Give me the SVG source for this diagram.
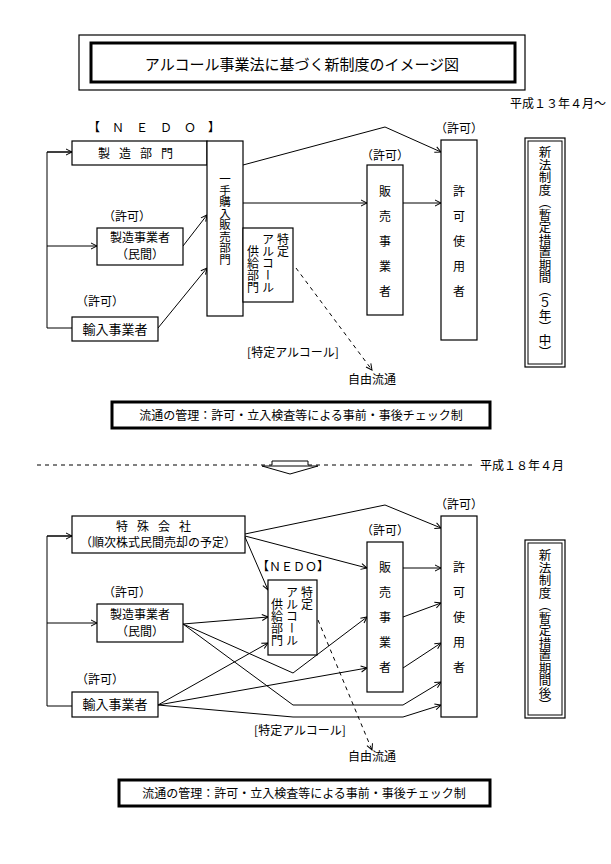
<svg xmlns="http://www.w3.org/2000/svg" width="611" height="864" viewBox="0 0 611 864">
<defs>
<marker id="ar" markerWidth="8" markerHeight="8" refX="7" refY="4" orient="auto" markerUnits="userSpaceOnUse"><path d="M1,1 L7,4 L1,7" fill="none" stroke="#000" stroke-width="1"/></marker>
<style>
text{font-family:"Noto Sans CJK JP","Liberation Sans",sans-serif;font-size:12px;fill:#000}
.b{fill:#fff;stroke:#000;stroke-width:1.2}
.l{fill:none;stroke:#000;stroke-width:1}
.a{fill:none;stroke:#000;stroke-width:1;marker-end:url(#ar)}
.d{fill:none;stroke:#000;stroke-width:1;stroke-dasharray:4 4}
.m{text-anchor:middle}
.v{writing-mode:tb;glyph-orientation-vertical:0;font-size:12px}
</style>
</defs>
<rect width="611" height="864" fill="#fff"/>
<g id="title"><rect x="79" y="35" width="446" height="55" class="b"/><rect x="91" y="43" width="424" height="39" fill="none" stroke="#000" stroke-width="3"/><text x="302" y="70" class="m" style="font-size:15px">アルコール事業法に基づく新制度のイメージ図</text></g>
<text x="606" y="108" text-anchor="end">平成１３年４月～</text>
<g id="connectors">
<path class="l" d="M72,152 H47 V328 H72"/>
<path class="a" d="M47,152 H72"/><path class="a" d="M47,246 H97"/>
<path class="a" d="M183,246 L207,215"/><path class="a" d="M158,328 L207,268"/>
<path class="a" d="M243,165 L385,127 L441,152"/>
<path class="a" d="M243,203 H367"/><path class="a" d="M403,203 H441"/>
<path class="d" d="M296,268 L372,370" marker-end="url(#ar)"/>
<path class="l" d="M72,536 H47 V706 H72"/>
<path class="a" d="M47,536 H72"/><path class="a" d="M47,623 H97"/>
<path class="a" d="M245,534 L385,505 L441,528"/>
<path class="a" d="M245,536 L367,568"/>
<path class="a" d="M245,537 L268,590"/>
<path class="a" d="M183,624 L268,617"/>
<path class="a" d="M183,624 L293,673 L367,617"/>
<path class="a" d="M183,624 L293,705 H403 L441,682"/>
<path class="a" d="M158,705 L268,643"/>
<path class="a" d="M158,705 L367,668"/>
<path class="a" d="M158,705 L293,717 H403 L441,705"/>
<path class="a" d="M403,568 H441"/><path class="a" d="M403,617 L441,603"/><path class="a" d="M403,668 L441,643"/>
<path class="d" d="M318,620 L372,750" marker-end="url(#ar)"/>
<path class="d" d="M37,465 H272 M308,465 H474"/>
<path class="l" d="M272,465 V461 H308 V465 M262,466 L318,466 L290,474 Z" fill="#fff"/>
</g>
<text x="160" y="132" class="m" style="letter-spacing:12px">【ＮＥＤＯ】</text>
<g id="seizo"><rect x="72" y="141" width="135" height="24" class="b"/><text x="140" y="158" class="m" style="letter-spacing:9px">製造部門</text></g>
<g id="ittekonyu"><rect x="207" y="141" width="36" height="175" class="b"/><text x="225" y="173" class="v" style="font-size:11.5px">一手購入販売部門</text></g>
<g id="tokutei1"><rect x="243" y="228" width="50" height="74" class="b"/><text x="283" y="233" class="v">特定</text><text x="268" y="233" class="v">アルコール</text><text x="253" y="245" class="v">供給部門</text></g>
<g id="seizojigyo1"><text x="127" y="221" class="m">（許可）</text><rect x="97" y="228" width="86" height="37" class="b"/><text x="140" y="242" class="m">製造事業者</text><text x="140" y="259" class="m">（民間）</text></g>
<g id="yunyu1"><text x="100" y="306" class="m">（許可）</text><rect x="72" y="317" width="86" height="24" class="b"/><text x="115" y="334" class="m" style="font-size:13px">輸入事業者</text></g>
<g id="hanbai1"><text x="385" y="160" class="m">（許可）</text><rect x="367" y="165" width="36" height="150" class="b"/><text x="385" y="185" class="v" style="letter-spacing:13px">販売事業者</text></g>
<g id="kyoka1"><text x="459" y="133" class="m">（許可）</text><rect x="441" y="140" width="36" height="200" class="b"/><text x="459" y="185" class="v" style="letter-spacing:13px">許可使用者</text></g>
<g id="shinpo1"><rect x="525" y="138" width="40" height="229" class="b"/><rect x="528" y="141" width="34" height="223" class="l"/><text x="545" y="146" class="v" style="font-size:12.5px">新法制度（暫定措置期間（５年）中）</text></g>
<text x="293" y="357" class="m">[特定アルコール]</text>
<text x="372" y="384" class="m">自由流通</text>
<g id="kanri1"><rect x="112" y="402" width="378" height="26" fill="#fff" stroke="#000" stroke-width="3"/><text x="301" y="420" class="m">流通の管理：許可・立入検査等による事前・事後チェック制</text></g>
<text x="480" y="470">平成１８年４月</text>
<g id="tokushu"><rect x="72" y="516" width="173" height="37" class="b"/><text x="158" y="531" class="m" style="letter-spacing:9px">特殊会社</text><text x="158" y="547" class="m">（順次株式民間売却の予定）</text></g>
<text x="293" y="571" class="m">【ＮＥＤＯ】</text>
<g id="tokutei2"><rect x="268" y="580" width="49" height="75" class="b"/><text x="307" y="586" class="v">特定</text><text x="292" y="586" class="v">アルコール</text><text x="277" y="598" class="v">供給部門</text></g>
<g id="seizojigyo2"><text x="127" y="597" class="m">（許可）</text><rect x="97" y="604" width="86" height="38" class="b"/><text x="140" y="619" class="m">製造事業者</text><text x="140" y="636" class="m">（民間）</text></g>
<g id="yunyu2"><text x="100" y="684" class="m">（許可）</text><rect x="72" y="692" width="86" height="25" class="b"/><text x="115" y="709" class="m" style="font-size:13px">輸入事業者</text></g>
<g id="hanbai2"><text x="385" y="535" class="m">（許可）</text><rect x="367" y="542" width="36" height="150" class="b"/><text x="385" y="561" class="v" style="letter-spacing:13px">販売事業者</text></g>
<g id="kyoka2"><text x="459" y="509" class="m">（許可）</text><rect x="441" y="516" width="36" height="201" class="b"/><text x="459" y="561" class="v" style="letter-spacing:13px">許可使用者</text></g>
<g id="shinpo2"><rect x="525" y="540" width="40" height="178" class="b"/><rect x="528" y="543" width="34" height="172" class="l"/><text x="545" y="549" class="v" style="font-size:12.5px">新法制度（暫定措置期間後）</text></g>
<text x="300" y="735" class="m">[特定アルコール]</text>
<text x="372" y="761" class="m">自由流通</text>
<g id="kanri2"><rect x="119" y="780" width="371" height="26" fill="#fff" stroke="#000" stroke-width="3"/><text x="304" y="798" class="m">流通の管理：許可・立入検査等による事前・事後チェック制</text></g>
</svg>
